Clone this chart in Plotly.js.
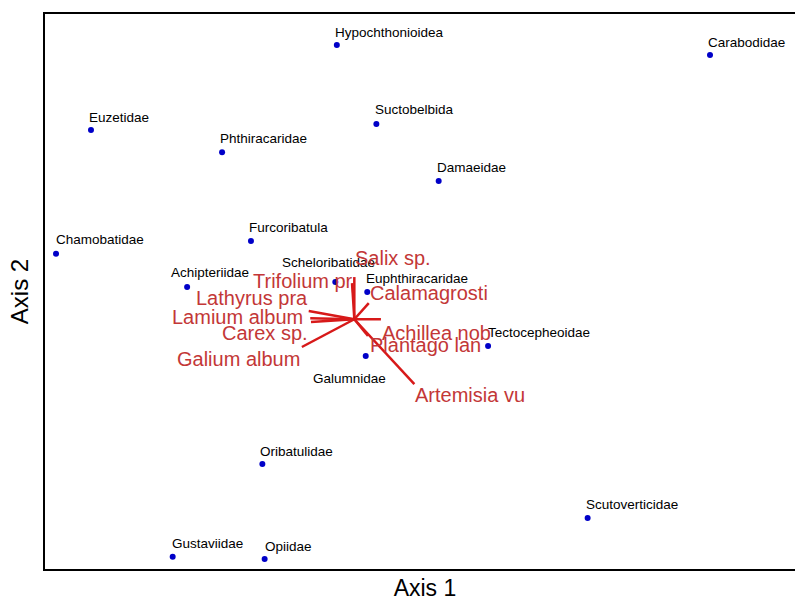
<!DOCTYPE html>
<html><head><meta charset="utf-8">
<script src="https://cdn.plot.ly/plotly-3.0.1.min.js"></script>
<style>html,body{margin:0;padding:0;overflow:hidden;background:#fff}#chart{width:810px;height:604px}</style>
</head><body><div id="chart"></div>
<script>
// ---- data: taxa scores (Axis 1, Axis 2) ----
const taxa = ["Hypochthonioidea","Carabodidae","Euzetidae","Suctobelbida","Phthiracaridae","Damaeidae",
  "Furcoribatula","Chamobatidae","Scheloribatidae","Achipteriidae","Euphthiracaridae","Tectocepheoidae",
  "Galumnidae","Oribatulidae","Scutoverticidae","Gustaviidae","Opiidae"];
const axis1 = [38.4, 87.5, 6.05, 43.6, 23.3, 51.8, 27.1, 1.45, 38.2, 18.7, 42.4, 58.3, 42.2, 28.6, 71.4, 16.8, 28.9];
const axis2 = [94.4, 92.6, 79.1, 80.2, 75.1, 69.9, 59.1, 56.8, 51.7, 50.8, 49.9, 40.2, 38.4, 18.9, 9.2, 2.2, 1.8];

// ---- data: plant species vectors (biplot arrows) ----
const species = ["Salix sp.","Trifolium pr","Calamagrosti","Achillea nob","Plantago lan","Artemisia vu",
  "Lathyrus pra","Lamium album","Carex sp.","Galium album"];
const spAxis1 = [40.7, 40.4, 42.6, 44.2, 42.5, 48.6, 34.7, 34.9, 35.0, 33.8];
const spAxis2 = [52.6, 51.5, 47.9, 45.0, 42.0, 33.3, 46.5, 45.2, 44.5, 40.0];
const originAxis1 = 40.7;
const originAxis2 = 45.0;

// ---- label placement (styling only) ----
const taxaLabelShift = [[-2,13],[-2,13],[-2,13],[-1,14],[-2,14],[-2,14],[-2,14],[0,14],[-53,20],[-16,15],
  [-1,13.5],[0,13.5],[-53,-23],[-2,13],[-2,13],[-1,13.5],[0,12.6]];
const spLabelPlace = [
  ["left",1,19.5],["right",1,2.5],["left",1,10],["left",1,-13.5],["left",2,-9.5],["left",1,-11],
  ["right",-1,12.5],["right",-7,1],["right",-3,-10.5],["right",-2,-11.7]];

const FONT = "Liberation Sans, Arial, sans-serif";

const vx = [], vy = [];
species.forEach((s, i) => { vx.push(originAxis1, spAxis1[i], null); vy.push(originAxis2, spAxis2[i], null); });

const traces = [
  {type: "scatter", mode: "lines", x: vx, y: vy, line: {color: "rgb(215,25,25)", width: 2.5},
   hoverinfo: "skip", showlegend: false},
  {type: "scatter", mode: "markers", x: axis1, y: axis2, text: taxa,
   marker: {color: "rgb(0,0,200)", size: 6}, showlegend: false}
];

const annotations = [];
taxa.forEach((t, i) => annotations.push({
  x: axis1[i], y: axis2[i], xref: "x", yref: "y", text: t, showarrow: false,
  xanchor: "left", yanchor: "middle", xshift: taxaLabelShift[i][0], yshift: taxaLabelShift[i][1],
  borderpad: 0, borderwidth: 0, font: {family: FONT, size: 13.5, color: "#000"}
}));
species.forEach((s, i) => annotations.push({
  x: spAxis1[i], y: spAxis2[i], xref: "x", yref: "y", text: s, showarrow: false,
  xanchor: spLabelPlace[i][0], yanchor: "middle", xshift: spLabelPlace[i][1], yshift: spLabelPlace[i][2],
  borderpad: 0, borderwidth: 0, font: {family: FONT, size: 20, color: "rgb(195,55,55)"}
}));

const layout = {
  width: 810, height: 604,
  margin: {l: 45, r: 5, t: 14, b: 35, pad: 0},
  paper_bgcolor: "#fff", plot_bgcolor: "#fff",
  showlegend: false, hovermode: false,
  font: {family: FONT},
  xaxis: {range: [0, 100], showgrid: false, zeroline: false, showticklabels: false, ticks: "",
          showline: true, linecolor: "#000", linewidth: 2, mirror: true,
          title: {text: "Axis 1", font: {family: FONT, size: 23, color: "#000"}, standoff: 10}},
  yaxis: {range: [0, 100], showgrid: false, zeroline: false, showticklabels: false, ticks: "",
          showline: true, linecolor: "#000", linewidth: 2, mirror: false,
          title: {text: "Axis 2", font: {family: FONT, size: 24, color: "#000"}, standoff: 8}},
  annotations: annotations
};

Plotly.newPlot("chart", traces, layout, {displayModeBar: false, staticPlot: true});
</script></body></html>
